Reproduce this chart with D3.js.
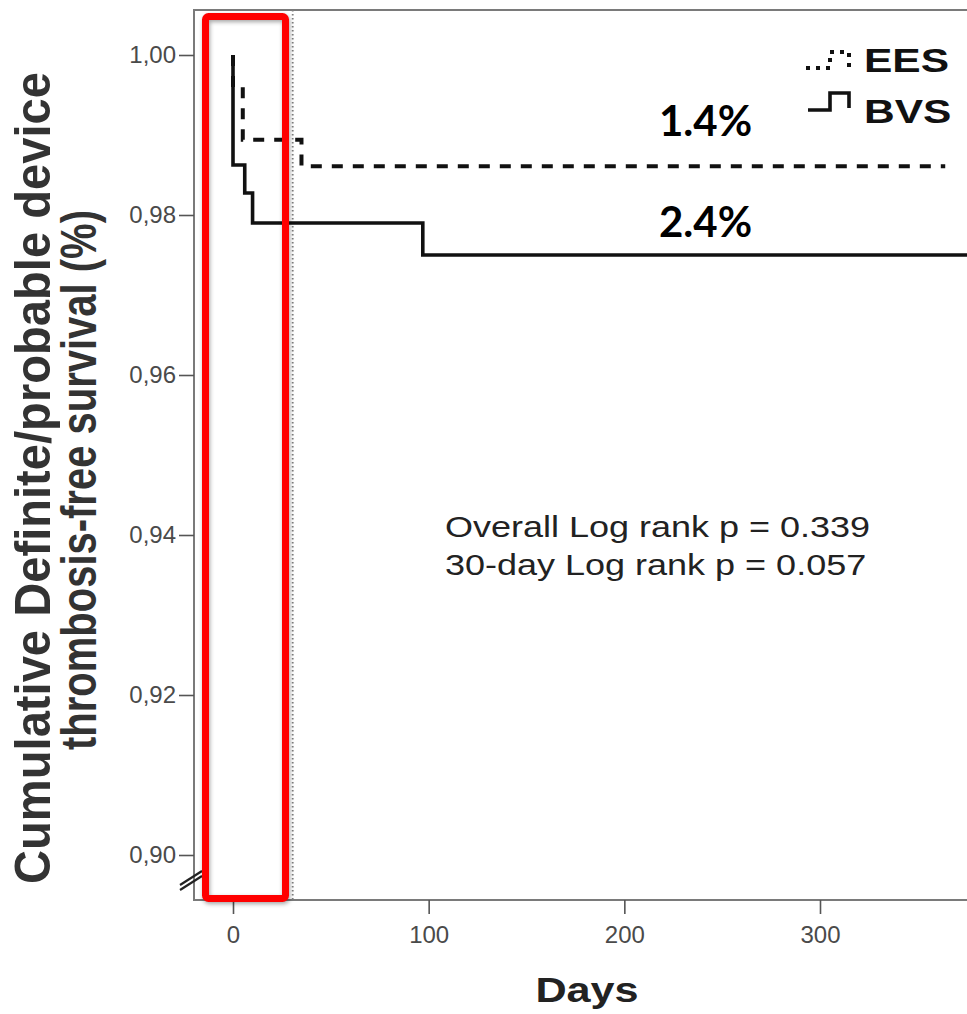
<!DOCTYPE html>
<html>
<head>
<meta charset="utf-8">
<script src="https://cdn.jsdelivr.net/npm/d3@7"></script>
<style>
  html, body { margin: 0; padding: 0; background: #fff; }
  svg { display: block; }
</style>
</head>
<body>
<div id="wrapper"></div>
<script>
// values
const yTicks = [0.90, 0.92, 0.94, 0.96, 0.98, 1.00];
const xTicks = [0, 100, 200, 300];
const eesDays = [0, 0, 5, 35, 364];
const eesSurv = [1.0, 0.996, 0.9894, 0.9861, 0.9861];
const bvsDays = [0, 0, 6, 10, 97, 380];
const bvsSurv = [1.0, 0.98625, 0.98275, 0.979, 0.975, 0.975];
const seriesNames = ["EES", "BVS"];
const rateLabels = ["1.4%", "2.4%"];
const pValueLines = ["Overall Log rank p = 0.339", "30-day Log rank p = 0.057"];
const yTitleLines = ["Cumulative Definite/probable device", "thrombosis-free survival (%)"];
const cutoffDay = 30;

const width = 967, height = 1014;
const axisFont = "'Liberation Sans', Arial, sans-serif";

let svg = d3.select("#wrapper")
            .append("svg")
            .attr("width", width)
            .attr("height", height);

let xScale = d3.scaleLinear()
                .domain([0, 300])
                .range([233, 820]);

let yScale = d3.scaleLinear()
                .domain([0.90, 1.00])
                .range([855, 55]);

const plotLeft = 194, plotTop = 10, plotBottom = 900;

// frame
svg.append("path")
    .attr("d", `M${width},${plotTop} H${plotLeft} V${plotBottom} H${width}`)
    .attr("fill", "none")
    .attr("stroke", "#7a7a7a")
    .attr("stroke-width", 2);

// 30-day dotted reference line
svg.append("line")
    .attr("x1", xScale(cutoffDay) + 1).attr("x2", xScale(cutoffDay) + 1)
    .attr("y1", plotTop).attr("y2", plotBottom)
    .attr("stroke", "#808080")
    .attr("stroke-width", 1.8)
    .attr("stroke-dasharray", "1.5,2.5");

let yAxisFunction = d3.axisLeft(yScale)
                        .tickValues(yTicks)
                        .tickFormat(d => d3.format(".2f")(d).replace(".", ","))
                        .tickSize(15)
                        .tickPadding(3);

let yG = svg.append("g")
            .attr("transform", `translate(${plotLeft}, 0)`)
            .call(yAxisFunction);

let xAxisFunction = d3.axisBottom(xScale)
                        .tickValues(xTicks)
                        .tickFormat(d3.format("d"))
                        .tickSize(14)
                        .tickPadding(12);

let xG = svg.append("g")
            .attr("transform", `translate(0, ${plotBottom})`)
            .call(xAxisFunction);

[xG, yG].forEach(g => {
    g.select(".domain").remove();
    g.selectAll(".tick line").attr("stroke", "#555").attr("stroke-width", 1.6);
    g.selectAll(".tick text")
        .style("font-family", axisFont)
        .style("font-size", "24px")
        .attr("fill", "#4a4a4a");
});

// axis break marks
svg.append("g")
    .selectAll("line")
    .data([0, 5])
    .enter()
    .append("line")
    .attr("x1", 180).attr("x2", 202)
    .attr("y1", d => 885 + d).attr("y2", d => 871 + d)
    .attr("stroke", "#222")
    .attr("stroke-width", 2.2);

// survival curves
const stepLine = d3.line()
            .x(d => xScale(d.day))
            .y(d => yScale(d.surv))
            .curve(d3.curveStepAfter);

const eesData = eesDays.map((d, i) => ({day: d, surv: eesSurv[i]}));
const bvsData = bvsDays.map((d, i) => ({day: d, surv: bvsSurv[i]}));

svg.append("path")
    .attr("d", stepLine(eesData))
    .attr("fill", "none")
    .attr("stroke", "#111")
    .attr("stroke-width", 4)
    .attr("stroke-dasharray", "11,10");

svg.append("path")
    .attr("d", stepLine(bvsData))
    .attr("fill", "none")
    .attr("stroke", "#111")
    .attr("stroke-width", 3.6);

// legend
svg.append("path")
    .attr("d", "M806,68 H830 V52 H849 V68")
    .attr("fill", "none")
    .attr("stroke", "#111")
    .attr("stroke-width", 4)
    .attr("stroke-dasharray", "4,6");

svg.append("path")
    .attr("d", "M808,110 H830 V93 H849 V108")
    .attr("fill", "none")
    .attr("stroke", "#111")
    .attr("stroke-width", 3.6);

svg.append("g")
    .selectAll("text")
    .data(seriesNames)
    .enter()
    .append("text")
    .attr("transform", (d, i) => `translate(864, ${72 + i * 51}) scale(1.25,1)`)
    .style("font-family", axisFont)
    .style("font-weight", "700")
    .style("font-size", "34px")
    .attr("fill", "#111")
    .text(d => d);

// event rates
svg.append("g")
    .selectAll("text")
    .data(rateLabels)
    .enter()
    .append("text")
    .attr("x", 659)
    .attr("y", (d, i) => i == 0 ? yScale(eesSurv[eesSurv.length - 1]) - 30 : yScale(bvsSurv[bvsSurv.length - 1]) - 18)
    .style("font-family", "Lato, 'Open Sans', sans-serif")
    .style("font-weight", "700")
    .style("font-size", "42px")
    .attr("fill", "#000")
    .text(d => d);

// log rank p values
svg.append("g")
    .selectAll("text")
    .data(pValueLines)
    .enter()
    .append("text")
    .attr("transform", (d, i) => `translate(445, ${537 + i * 38}) scale(1.2,1)`)
    .style("font-family", axisFont)
    .style("font-size", "30px")
    .attr("fill", "#222")
    .text(d => d);

// axis titles
svg.append("text")
    .attr("transform", `translate(587, 1002) scale(1.2,1)`)
    .style("text-anchor", "middle")
    .style("font-family", axisFont)
    .style("font-weight", "700")
    .style("font-size", "36px")
    .attr("fill", "#222")
    .text("Days");

const yTitleLength = [812, 540];
const yTitleCenter = [478, 480];

svg.append("g")
    .selectAll("text")
    .data(yTitleLines)
    .enter()
    .append("text")
    .attr("transform", (d, i) => `translate(${50 + i * 46}, ${yTitleCenter[i]}) rotate(-90) scale(1,1.15)`)
    .attr("textLength", (d, i) => yTitleLength[i])
    .attr("lengthAdjust", "spacingAndGlyphs")
    .style("text-anchor", "middle")
    .style("font-family", axisFont)
    .style("font-weight", "700")
    .style("font-size", "44px")
    .attr("fill", "#333")
    .text(d => d);

// red highlight box around the first 30 days
svg.append("rect")
    .attr("x", 205.5)
    .attr("y", 16.5)
    .attr("width", 80)
    .attr("height", 882)
    .attr("rx", 3)
    .attr("fill", "none")
    .attr("stroke", "#ff0000")
    .attr("stroke-width", 7)
    .style("filter", "drop-shadow(1px 2px 2px rgba(0,0,0,0.35))");
</script>
</body>
</html>
